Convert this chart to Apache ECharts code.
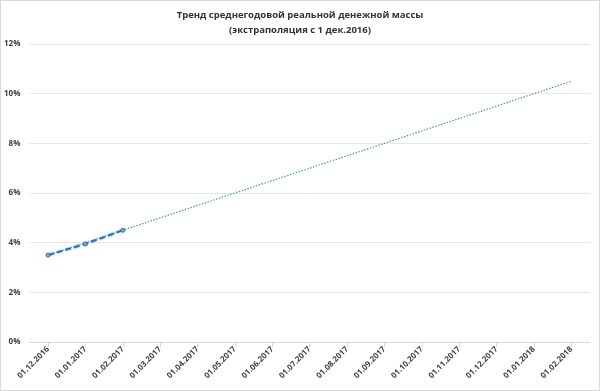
<!DOCTYPE html>
<html><head><meta charset="utf-8">
<script src="https://cdn.jsdelivr.net/npm/echarts@6/dist/echarts.min.js"></script>
<style>html,body{margin:0;padding:0;background:#fff}#c{width:598px;height:389px;border:1px solid #d9d9d9}</style>
</head><body><div id="c"></div>
<script>
const categories = ['01.12.2016','01.01.2017','01.02.2017','01.03.2017','01.04.2017','01.05.2017','01.06.2017','01.07.2017','01.08.2017','01.09.2017','01.10.2017','01.11.2017','01.12.2017','01.01.2018','01.02.2018'];
const actual = [3.5, 3.95, 4.5];
const trend = [3.5, 4.0, 4.5, 5.0, 5.5, 6.0, 6.5, 7.0, 7.5, 8.0, 8.5, 9.0, 9.5, 10.0, 10.5];
const titleLines = ['Тренд среднегодовой реальной денежной массы', '(экстраполяция с 1 дек.2016)'];

const chart = echarts.init(document.getElementById('c'));
chart.setOption({
  animation: false,
  title: {
    text: titleLines.join('\n'),
    left: 'center', top: 2,
    textStyle: {fontFamily: 'Open Sans', fontSize: 9.5, fontWeight: 'bold', color: '#333', lineHeight: 15}
  },
  grid: {left: 27, right: 9, top: 43, bottom: 48},
  xAxis: {
    type: 'category', data: categories, boundaryGap: true,
    axisLine: {lineStyle: {color: '#d9d9d9'}},
    axisTick: {show: true, alignWithLabel: true, lineStyle: {color: '#d9d9d9'}},
    axisLabel: {rotate: 45, fontFamily: 'Open Sans', fontSize: 8, fontWeight: 'bold', color: '#404040', margin: 6, interval: 0}
  },
  yAxis: {
    type: 'value', min: 0, max: 12, interval: 2,
    axisLabel: {formatter: '{value}%', fontFamily: 'Open Sans', fontSize: 8, fontWeight: 'bold', color: '#404040', margin: 9},
    splitLine: {lineStyle: {color: '#e6e6e6'}},
    axisLine: {show: false}, axisTick: {show: false}
  },
  series: [
    {
      type: 'line', data: trend, symbol: 'none', z: 1,
      lineStyle: {color: '#4f9a96', width: 1.2, type: [1.5, 1.5]}
    },
    {
      type: 'line', data: actual, symbol: 'circle', symbolSize: 4, z: 3,
      itemStyle: {color: '#8aa7bd', borderColor: '#2e6fa3', borderWidth: 1},
      lineStyle: {color: '#2e75b6', width: 2.2, type: [6, 3], shadowColor: 'rgba(120,200,240,0.8)', shadowBlur: 3}
    }
  ]
});
</script></body></html>
